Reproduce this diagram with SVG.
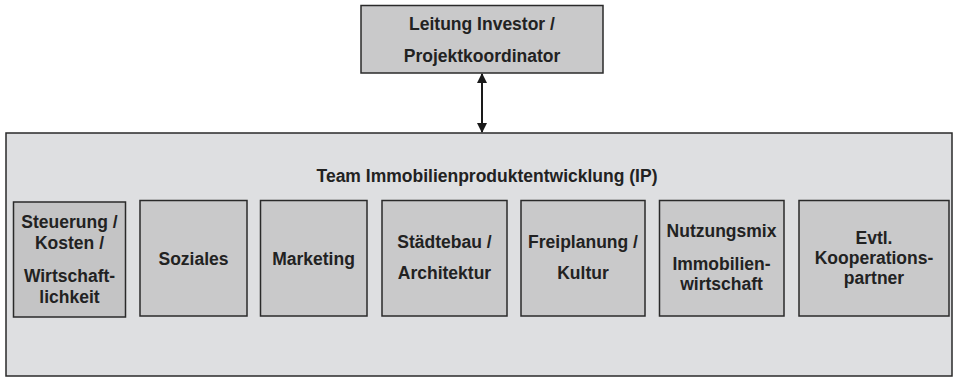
<svg xmlns="http://www.w3.org/2000/svg" width="953" height="377" viewBox="0 0 953 377">
<style>
.box{fill:#c9c9ca;stroke:#2a2a2a;stroke-width:1.5}
.outer{fill:#dedfe1;stroke:#2a2a2a;stroke-width:1.5}
text{font-family:"Liberation Sans",Arial,sans-serif;font-weight:bold;font-size:17.5px;fill:#222;text-anchor:middle}
.conn{stroke:#1a1a1a;stroke-width:2;fill:none}
</style>
<defs>
<marker id="ah" viewBox="0 0 10 10" refX="9" refY="5" markerWidth="5" markerHeight="5" orient="auto-start-reverse" markerUnits="strokeWidth">
<path d="M0,0 L10,5 L0,10 z" fill="#1a1a1a"/>
</marker>
</defs>
<rect width="953" height="377" fill="#ffffff"/>
<g id="team">
<rect class="outer" x="6" y="133" width="946" height="243"/>
<text x="487" y="182">Team Immobilienproduktentwicklung (IP)</text>
</g>
<g id="leitung">
<rect class="box" x="361" y="5.5" width="242" height="67.5"/>
<text x="482" y="30">Leitung Investor /</text>
<text x="482" y="62">Projektkoordinator</text>
</g>
<g id="connectors">
<line class="conn" x1="482" y1="74" x2="482" y2="132" marker-start="url(#ah)" marker-end="url(#ah)"/>
</g>
<g id="steuerung">
<rect class="box" x="13.5" y="202" width="112" height="115" style="fill:#c4c4c5"/>
<text x="69.5" y="228">Steuerung /</text>
<text x="69.5" y="249">Kosten /</text>
<text x="69.5" y="282">Wirtschaft-</text>
<text x="69.5" y="303">lichkeit</text>
</g>
<g id="soziales">
<rect class="box" x="140" y="200.5" width="107" height="115.5"/>
<text x="193.5" y="265">Soziales</text>
</g>
<g id="marketing">
<rect class="box" x="260.5" y="200.5" width="106.5" height="115.5"/>
<text x="313.5" y="265">Marketing</text>
</g>
<g id="staedtebau">
<rect class="box" x="382" y="200.5" width="125" height="115.5"/>
<text x="444.5" y="248">Städtebau /</text>
<text x="444.5" y="279">Architektur</text>
</g>
<g id="freiplanung">
<rect class="box" x="521" y="200.5" width="124" height="115.5"/>
<text x="583" y="248">Freiplanung /</text>
<text x="583" y="279">Kultur</text>
</g>
<g id="nutzungsmix">
<rect class="box" x="659.5" y="200.5" width="124.5" height="115.5"/>
<text x="721.5" y="237">Nutzungsmix</text>
<text x="721.5" y="270">Immobilien-</text>
<text x="721.5" y="290">wirtschaft</text>
</g>
<g id="kooperation">
<rect class="box" x="799" y="200.5" width="150" height="115.5"/>
<text x="874" y="244">Evtl.</text>
<text x="874" y="264">Kooperations-</text>
<text x="874" y="284">partner</text>
</g>
</svg>
